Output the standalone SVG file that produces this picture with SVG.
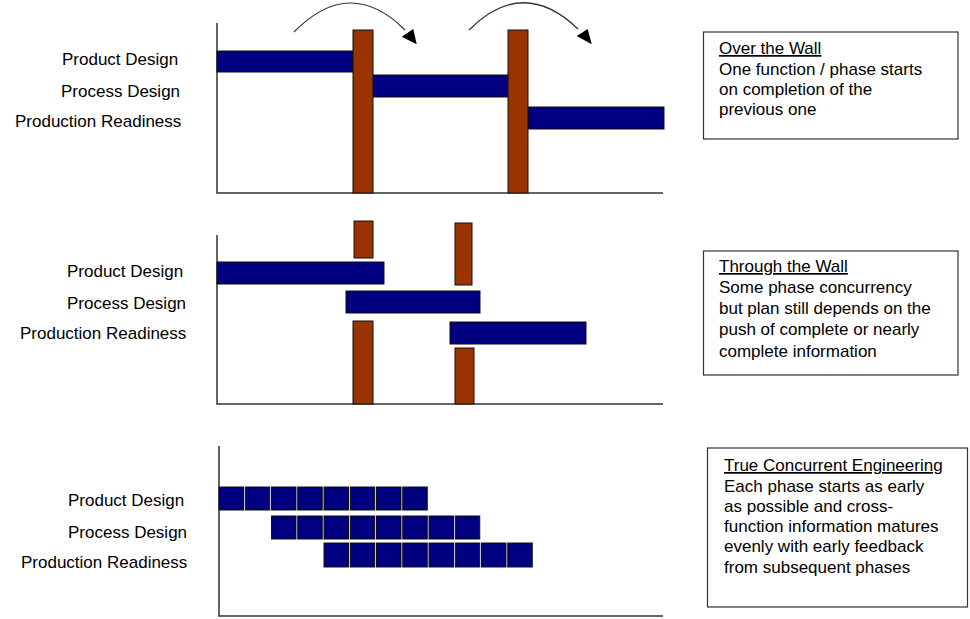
<svg xmlns="http://www.w3.org/2000/svg" width="970" height="619" viewBox="0 0 970 619">
<style>
text{font-family:"Liberation Sans",Arial,sans-serif;font-size:17px;fill:#000}
.axis{stroke:#333;stroke-width:1.5;fill:none}
.bar{fill:#000080;stroke:#111;stroke-width:1}
.sq{fill:#000080;stroke:#111;stroke-width:1}
.wall{fill:#993300;stroke:#111;stroke-width:1}
.arc{fill:none;stroke:#333;stroke-width:1.2}
.head{fill:#000}
.box{fill:#fff;stroke:#333;stroke-width:1.2}
.u{text-decoration:underline}
</style>
<rect width="970" height="619" fill="#fff"/>

<g id="panel1">
  <path class="axis" d="M217,23 V193 H663"/>
  <text x="62" y="65">Product Design</text>
  <text x="61" y="97">Process Design</text>
  <text x="15" y="127">Production Readiness</text>
  <rect class="bar" x="217" y="51" width="136" height="21"/>
  <rect class="bar" x="373" y="75" width="135" height="22"/>
  <rect class="bar" x="528" y="107" width="136" height="22"/>
  <rect class="wall" x="353" y="30" width="20" height="163"/>
  <rect class="wall" x="508" y="30" width="20" height="163"/>
</g>

<g id="connectors">
  <path class="arc" d="M294,32 Q350,-25 405,30"/>
  <polygon class="head" points="401.7,36.7 416.7,44.3 413.3,29"/>
  <path class="arc" d="M469,30 Q523,-24 578,29"/>
  <polygon class="head" points="576.7,36 591.7,44.3 587.7,29"/>
</g>

<g id="panel2">
  <path class="axis" d="M217,235 V404 H663"/>
  <text x="67" y="277">Product Design</text>
  <text x="67" y="309">Process Design</text>
  <text x="20" y="339">Production Readiness</text>
  <rect class="wall" x="354" y="221" width="19" height="37"/>
  <rect class="wall" x="455" y="223" width="17" height="62"/>
  <rect class="bar" x="217" y="262" width="167" height="22"/>
  <rect class="bar" x="346" y="291" width="134" height="22"/>
  <rect class="bar" x="450" y="322" width="136" height="22"/>
  <rect class="wall" x="353" y="321" width="20" height="83"/>
  <rect class="wall" x="455" y="348" width="19" height="56"/>
</g>

<g id="panel3">
  <path class="axis" d="M219,446 V616 H663"/>
  <text x="68" y="506">Product Design</text>
  <text x="68" y="538">Process Design</text>
  <text x="21" y="568">Production Readiness</text>
  <g id="row1">
    <rect class="sq" x="219" y="487" width="24.5" height="23"/>
    <rect class="sq" x="245.25" y="487" width="24.5" height="23"/>
    <rect class="sq" x="271.5" y="487" width="24.5" height="23"/>
    <rect class="sq" x="297.75" y="487" width="24.5" height="23"/>
    <rect class="sq" x="324" y="487" width="24.5" height="23"/>
    <rect class="sq" x="350.25" y="487" width="24.5" height="23"/>
    <rect class="sq" x="376.5" y="487" width="24.5" height="23"/>
    <rect class="sq" x="402.75" y="487" width="24.5" height="23"/>
  </g>
  <g id="row2">
    <rect class="sq" x="271.5" y="516" width="24.5" height="23"/>
    <rect class="sq" x="297.75" y="516" width="24.5" height="23"/>
    <rect class="sq" x="324" y="516" width="24.5" height="23"/>
    <rect class="sq" x="350.25" y="516" width="24.5" height="23"/>
    <rect class="sq" x="376.5" y="516" width="24.5" height="23"/>
    <rect class="sq" x="402.75" y="516" width="24.5" height="23"/>
    <rect class="sq" x="429" y="516" width="24.5" height="23"/>
    <rect class="sq" x="455.25" y="516" width="24.5" height="23"/>
  </g>
  <g id="row3">
    <rect class="sq" x="324" y="543" width="24.5" height="24"/>
    <rect class="sq" x="350.25" y="543" width="24.5" height="24"/>
    <rect class="sq" x="376.5" y="543" width="24.5" height="24"/>
    <rect class="sq" x="402.75" y="543" width="24.5" height="24"/>
    <rect class="sq" x="429" y="543" width="24.5" height="24"/>
    <rect class="sq" x="455.25" y="543" width="24.5" height="24"/>
    <rect class="sq" x="481.5" y="543" width="24.5" height="24"/>
    <rect class="sq" x="507.75" y="543" width="24.5" height="24"/>
  </g>
</g>

<g id="note1">
  <rect class="box" x="703.5" y="32" width="254.5" height="107"/>
  <text x="719" y="54" class="u">Over the Wall</text>
  <text x="719" y="75">One function / phase starts</text>
  <text x="719" y="95">on completion of the</text>
  <text x="719" y="115">previous one</text>
</g>

<g id="note2">
  <rect class="box" x="703.5" y="251" width="254.5" height="124"/>
  <text x="719" y="272" class="u">Through the Wall</text>
  <text x="719" y="293">Some phase concurrency</text>
  <text x="719" y="314">but plan still depends on the</text>
  <text x="719" y="335">push of complete or nearly</text>
  <text x="719" y="357">complete information</text>
</g>

<g id="note3">
  <rect class="box" x="707.5" y="448" width="260" height="159"/>
  <text x="724" y="471" class="u">True Concurrent Engineering</text>
  <text x="724" y="492">Each phase starts as early</text>
  <text x="724" y="512">as possible and cross-</text>
  <text x="724" y="532">function information matures</text>
  <text x="724" y="552">evenly with early feedback</text>
  <text x="724" y="573">from subsequent phases</text>
</g>
</svg>
